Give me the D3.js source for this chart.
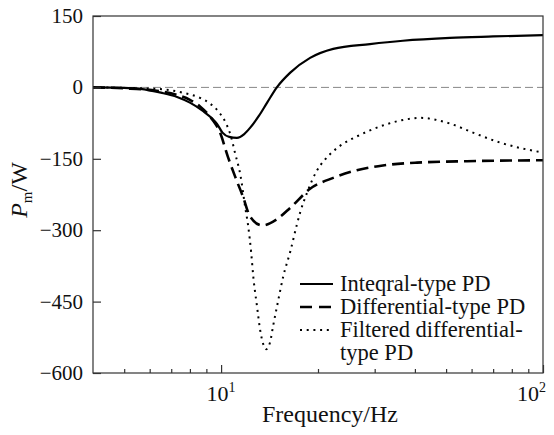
<!DOCTYPE html>
<html>
<head>
<meta charset="utf-8">
<script src="https://cdn.jsdelivr.net/npm/d3@7"></script>
</head>
<body style="margin:0">
<script>
// frequency (Hz) vs Pm (W)
let integralPD = [
  [4, 0], [5, -1], [5.6, -3], [6.5, -11], [7.3, -20], [8, -32], [8.8, -50],
  [9.4, -66], [9.7, -76], [10.1, -95], [10.6, -104], [11.2, -106], [11.8, -98],
  [12.3, -85], [13.1, -60], [13.9, -32], [14.9, 0], [16.4, 31], [18.9, 62],
  [22.3, 81], [29, 91], [36.7, 98], [51.4, 104], [70, 107], [100, 110]
];
let differentialPD = [
  [4, 0], [5, -2], [6.3, -7], [7.3, -16], [8, -26], [8.6, -40], [9.4, -68],
  [9.9, -93], [10.5, -146], [11.05, -187], [11.7, -230], [12.3, -271],
  [13.4, -290], [14.9, -277], [16.4, -253], [18.9, -213], [22.3, -190],
  [26.4, -174], [31.8, -164], [40.6, -158], [58, -155], [100, -153]
];
let filteredPD = [
  [4, 0], [5, -1], [6.3, -3], [7.6, -11], [8.6, -22], [9.2, -33], [9.9, -54],
  [10.4, -78], [10.7, -100], [11.05, -138], [11.5, -187], [11.87, -250],
  [12.13, -290], [12.4, -347], [12.6, -400], [12.93, -460], [13.21, -508],
  [13.5, -538], [13.8, -550], [14.2, -535], [14.5, -502], [15.0, -452],
  [15.6, -397], [16.4, -345], [17.2, -288], [17.6, -263], [18.5, -221],
  [19.8, -176], [21, -152], [22.3, -134], [24, -118], [26.4, -103],
  [31.8, -80], [38.6, -66], [41.5, -64], [51.4, -76], [60.6, -95],
  [73.6, -116], [100, -137]
];

let seriesNames = ['Inteqral-type PD', 'Differential-type PD', 'Filtered differential-|type PD'];
let yTicks = [-600, -450, -300, -150, 0, 150];
let xMajor = [10, 100];
let xMinor = [5, 6, 7, 8, 9, 20, 30, 40, 50, 60, 70, 80, 90];
let xLabels = [['10', '1'], ['10', '2']];

const width = 554, height = 435;
const margin = ({top: 16, right: 11, bottom: 62, left: 93});

let x = d3.scaleLog().domain([4, 100]).range([margin.left, width - margin.right]);
let y = d3.scaleLinear().domain([-600, 150]).range([height - margin.bottom, margin.top]);

let svg = d3.select('body').append('svg')
  .attr('width', width).attr('height', height)
  .attr('font-family', 'Liberation Serif');

// serif text helper
function serifText(sel, size) {
  return sel.append('text')
    .style('font-family', '"Liberation Serif"')
    .attr('font-size', size)
    .attr('fill', '#111');
}

// zero reference line
svg.append('line')
  .attr('x1', x(4)).attr('x2', x(100))
  .attr('y1', y(0)).attr('y2', y(0))
  .attr('stroke', '#888').attr('stroke-width', 1)
  .attr('stroke-dasharray', '8,4');

let line = d3.line()
  .x(d => x(d[0]))
  .y(d => y(d[1]))
  .curve(d3.curveMonotoneX);

let styles = [
  {dash: null, w: 2.2},
  {dash: '12,6', w: 2.6},
  {dash: '2,4.7', w: 2}
];

[integralPD, differentialPD, filteredPD].forEach((s, i) => {
  svg.append('path')
    .datum(s)
    .attr('fill', 'none')
    .attr('stroke', '#000')
    .attr('stroke-width', styles[i].w)
    .attr('stroke-dasharray', styles[i].dash)
    .attr('d', line);
});

// frame
svg.append('rect')
  .attr('x', margin.left).attr('y', margin.top)
  .attr('width', width - margin.right - margin.left)
  .attr('height', height - margin.bottom - margin.top)
  .attr('fill', 'none').attr('stroke', '#333').attr('stroke-width', 1.2);

// y axis (ticks only; labels drawn below)
svg.append('g')
  .attr('transform', `translate(${margin.left},0)`)
  .call(d3.axisLeft(y).tickValues(yTicks).tickSizeInner(-8).tickSizeOuter(0).tickFormat(''))
  .call(g => g.select('.domain').remove())
  .call(g => g.selectAll('line').attr('stroke', '#333').attr('stroke-width', 1.2));

let yFmt = d3.format('d');
yTicks.forEach(v => {
  serifText(svg, 21)
    .attr('x', margin.left - 10)
    .attr('y', y(v) + 7)
    .attr('text-anchor', 'end')
    .text(yFmt(v).replace('-', '\u2212'));
});

// x axis: major and minor ticks pointing inwards
svg.append('g')
  .attr('transform', `translate(0,${height - margin.bottom})`)
  .call(d3.axisBottom(x).tickValues(xMajor).tickSizeInner(-8).tickSizeOuter(0).tickFormat(''))
  .call(g => g.select('.domain').remove())
  .call(g => g.selectAll('line').attr('stroke', '#333').attr('stroke-width', 1.2));
svg.append('g')
  .attr('transform', `translate(0,${height - margin.bottom})`)
  .call(d3.axisBottom(x).tickValues(xMinor).tickSizeInner(-4).tickSizeOuter(0).tickFormat(''))
  .call(g => g.select('.domain').remove())
  .call(g => g.selectAll('line').attr('stroke', '#333').attr('stroke-width', 1.2));

xMajor.forEach((v, i) => {
  let last = i == xMajor.length - 1;
  let t = serifText(svg, 22)
    .attr('x', last ? x(v) + 3 : x(v))
    .attr('y', 401)
    .attr('text-anchor', last ? 'end' : 'middle');
  t.append('tspan').text(xLabels[i][0]);
  t.append('tspan').attr('dy', -9).attr('font-size', 14).text(xLabels[i][1]);
});

// axis labels
serifText(svg, 24)
  .attr('x', 330)
  .attr('y', 422)
  .attr('text-anchor', 'middle')
  .text('Frequency/Hz');

let yl = serifText(svg, 24)
  .attr('transform', 'translate(27,190) rotate(-90)')
  .attr('text-anchor', 'middle');
yl.append('tspan').attr('font-style', 'italic').text('P');
yl.append('tspan').attr('font-size', 15).attr('dy', 5).text('m');
yl.append('tspan').attr('dy', -5).text('/W');

// legend
let legend = svg.append('g').attr('transform', 'translate(300,284)');
let rowY = [0, 23, 46];
seriesNames.forEach((name, i) => {
  legend.append('line')
    .attr('x1', 0).attr('x2', 33)
    .attr('y1', rowY[i]).attr('y2', rowY[i])
    .attr('stroke', '#000')
    .attr('stroke-width', styles[i].w)
    .attr('stroke-dasharray', i == 1 ? '12,7' : styles[i].dash);
  name.split('|').forEach((part, j) => {
    serifText(legend, 22.5)
      .attr('x', 40).attr('y', rowY[i] + 7 + 23 * j)
      .text(part);
  });
});
</script>
</body>
</html>
